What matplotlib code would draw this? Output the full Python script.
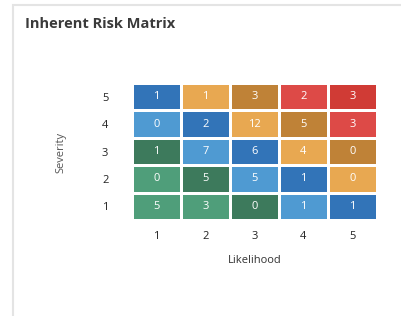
import numpy as np
import matplotlib
matplotlib.use("Agg")
import matplotlib.pyplot as plt
from matplotlib.colors import ListedColormap
from matplotlib.patches import Rectangle

plt.rcParams['font.family'] = ['Open Sans', 'DejaVu Sans']

likelihood = [1, 2, 3, 4, 5]
severity = [1, 2, 3, 4, 5]
# counts[row][col], row = severity 1..5, col = likelihood 1..5
counts = [
    [5, 3, 0, 1, 1],
    [0, 5, 5, 1, 0],
    [1, 7, 6, 4, 0],
    [0, 2, 12, 5, 3],
    [1, 1, 3, 2, 3],
]
# colour per risk score (severity + likelihood), scores 2..10
level_colors = ['#4f9e7a', '#4f9e7a', '#3d7a5c', '#4f9ad2', '#3274b8',
                '#e8a851', '#bf8237', '#dd4a47', '#d03b35']

score = np.add.outer(np.array(severity), np.array(likelihood)) - 2
cmap = ListedColormap(level_colors)

fig = plt.figure(figsize=(4.01, 3.16), dpi=100)
fig.patches.append(Rectangle((13 / 401, -0.01), 1.0, 1 - 5 / 316 + 0.01,
                             transform=fig.transFigure, fill=False,
                             edgecolor='#e4e4e4', linewidth=1.5))
fig.text(25 / 401, 1 - 24 / 316, 'Inherent Risk Matrix', fontsize=10.5,
         fontweight='bold', color='#3a3a3a', va='center', ha='left')

ax = fig.add_axes([132 / 401, 1 - 220 / 316, 245 / 401, 137 / 316])
x_edges = np.arange(len(likelihood) + 1) + 0.5
y_edges = np.arange(len(severity) + 1) + 0.5
ax.pcolormesh(x_edges, y_edges, score, cmap=cmap, vmin=-0.5,
              vmax=len(level_colors) - 0.5, edgecolors='white', linewidth=0.9)

for i, s in enumerate(severity):
    for j, l in enumerate(likelihood):
        ax.text(l, s, str(counts[i][j]), ha='center', va='center',
                color='white', fontsize=8)

ax.set_xlim(0.5, 5.5)
ax.set_ylim(0.5, 5.5)
ax.set_xticks(likelihood)
ax.set_yticks(severity)
ax.tick_params(length=0, labelsize=8, labelcolor='#222222')
ax.tick_params(axis='y', pad=17)
ax.tick_params(axis='x', pad=8)
for sp in ax.spines.values():
    sp.set_visible(False)

ax.set_xlabel('Likelihood', fontsize=8, color='#333333', labelpad=9)
fig.text(61 / 401, 1 - 152 / 316, 'Severity', rotation=90, fontsize=8,
         color='#555555', ha='center', va='center')

fig.savefig('out.png', dpi=100)
